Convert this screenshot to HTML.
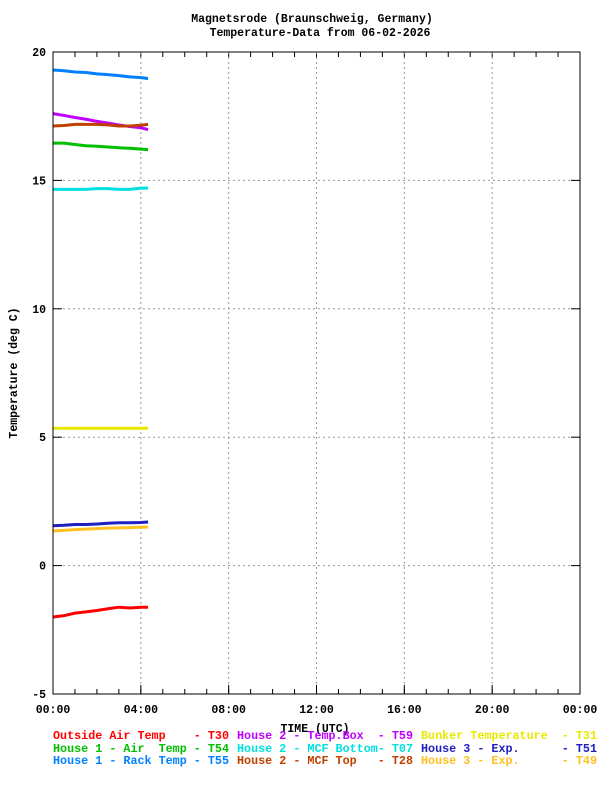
<!DOCTYPE html>
<html><head><meta charset="utf-8"><style>
body{margin:0;background:#fff}
svg text{font-family:"Liberation Mono",monospace;font-size:11.5px;font-weight:bold;white-space:pre}
</style></head><body>
<svg id="chart" width="600" height="800" xmlns="http://www.w3.org/2000/svg">
<text x="312" y="22" text-anchor="middle">Magnetsrode (Braunschweig, Germany)</text>
<text x="320" y="36" text-anchor="middle">Temperature-Data from 06-02-2026</text>
<text transform="translate(17,373) rotate(-90)" text-anchor="middle">Temperature (deg C)</text>
<text x="315" y="732" text-anchor="middle">TIME (UTC)</text>
<g id="grid"></g>
<g id="series"></g>
<rect x="53" y="52" width="527" height="642" fill="none" stroke="#000" stroke-width="1"/>
<g id="legend"></g>
</svg>
<script>
const xTickLabels=["00:00","04:00","08:00","12:00","16:00","20:00","00:00"];
const xTickHours=[0,4,8,12,16,20,24];
const yTicks=[-5,0,5,10,15,20];
const seriesNames=["Outside Air Temp    - T30","House 1 - Air  Temp - T54","House 1 - Rack Temp - T55","House 2 - Temp.Box  - T59","House 2 - MCF Bottom- T07","House 2 - MCF Top   - T28","Bunker Temperature  - T31","House 3 - Exp.      - T51","House 3 - Exp.      - T49"];
const seriesColors=["#ff0000","#00c000","#0080ff","#c000ff","#00e0e0","#c04000","#e8e800","#2020c0","#ffc020"];
const hours=[0,0.5,1,1.5,2,2.5,3,3.5,4,4.33];
const t30=[-2.0,-1.95,-1.85,-1.8,-1.75,-1.68,-1.62,-1.65,-1.62,-1.62];
const t54=[16.45,16.45,16.4,16.35,16.33,16.3,16.27,16.25,16.22,16.2];
const t55=[19.3,19.27,19.22,19.2,19.15,19.12,19.08,19.03,19.0,18.97];
const t59=[17.6,17.53,17.45,17.38,17.3,17.23,17.16,17.1,17.05,16.98];
const t07=[14.65,14.65,14.65,14.65,14.68,14.68,14.65,14.65,14.7,14.7];
const t28=[17.12,17.14,17.18,17.18,17.18,17.16,17.12,17.12,17.15,17.18];
const t31=[5.35,5.35,5.35,5.35,5.35,5.35,5.35,5.35,5.35,5.35];
const t51=[1.55,1.57,1.6,1.6,1.62,1.65,1.67,1.67,1.68,1.7];
const t49=[1.35,1.37,1.4,1.42,1.44,1.46,1.47,1.48,1.5,1.5];
const seriesValues=[t30,t54,t55,t59,t07,t28,t31,t51,t49];
const NS="http://www.w3.org/2000/svg";
const X=h=>53+h*527/24, Y=v=>694-(v+5)*642/25;
function mk(tag,attrs,parent){const e=document.createElementNS(NS,tag);for(const k in attrs)e.setAttribute(k,attrs[k]);parent.appendChild(e);return e;}
const grid=document.getElementById('grid');
for(let h=0;h<=24;h++){
  const t=mk('line',{x1:X(h),x2:X(h),y1:694,y2:689,stroke:'#000'},grid);
  
  
  const t2=mk('line',{x1:X(h),x2:X(h),y1:52,y2:57,stroke:'#000'},grid);
  
  
}
xTickHours.forEach((h,i)=>{
  if(h>0&&h<24){const g=mk('line',{x1:X(h),x2:X(h),y1:52,y2:694,stroke:'#999','stroke-dasharray':'2,3'},grid);
  
  }
  const tk=mk('line',{x1:X(h),x2:X(h),y1:694,y2:685,stroke:'#000'},grid);
  
  
  const tx=mk('text',{x:X(h),y:713,'text-anchor':'middle'},grid);tx.textContent=xTickLabels[i];
  
  
});
yTicks.forEach(v=>{
  if(v>-5&&v<20){const g=mk('line',{x1:53,x2:580,y1:Y(v),y2:Y(v),stroke:'#999','stroke-dasharray':'2,3'},grid);
  
  }
  const a=mk('line',{x1:53,x2:62,y1:Y(v),y2:Y(v),stroke:'#000'},grid);
  
  
  const b=mk('line',{x1:571,x2:580,y1:Y(v),y2:Y(v),stroke:'#000'},grid);
  
  
  const tx=mk('text',{x:46,y:Y(v)+4,'text-anchor':'end'},grid);tx.textContent=v;
  
  
});
const ser=document.getElementById('series');
seriesValues.forEach((vals,i)=>{
  const p=mk('polyline',{points:vals.map((v,j)=>X(hours[j])+','+Y(v)).join(' '),fill:'none',stroke:seriesColors[i],'stroke-width':3},ser);
  
  
});
const leg=document.getElementById('legend');
const colX=[53,237,421], rowY=[739,752,764];
seriesNames.forEach((n,i)=>{
  const c=Math.floor(i/3), r=i%3;
  const tx=mk('text',{x:colX[c],y:rowY[r],fill:seriesColors[i],textLength:176,lengthAdjust:'spacingAndGlyphs'},leg);
  tx.textContent=n;
  
  
});
</script>
</body></html>
